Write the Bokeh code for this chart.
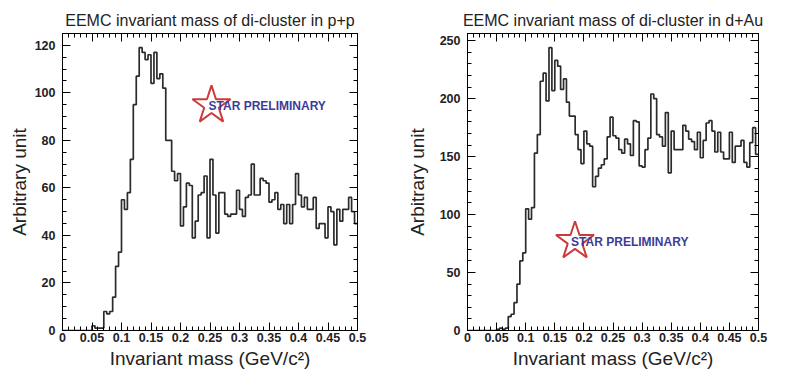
from bokeh.plotting import figure
from bokeh.models import Range1d, LinearAxis, Label, SingleIntervalTicker, NumeralTickFormatter
from bokeh.layouts import row
from bokeh.embed import file_html
from bokeh.resources import INLINE

# ---------------- data ----------------
BIN_WIDTH = 0.005  # GeV/c^2, 100 bins from 0 to 0.5

pp_counts = [
    0, 0, 0, 0, 0, 0, 0, 0, 0, 0,
    2, 1, 1, 1, 8, 7, 8, 14, 27, 33,
    55, 51, 58, 72, 95, 107, 119, 117, 114, 116,
    104, 117, 106, 108, 102, 80, 80, 67, 63, 66,
    44, 52, 62, 61, 39, 46, 57, 58, 65, 39,
    72, 57, 41, 58, 58, 49, 48, 49, 49, 59,
    51, 48, 56, 57, 70, 57, 57, 64, 63, 62,
    54, 55, 58, 51, 53, 45, 53, 45, 53, 66,
    57, 52, 56, 51, 51, 56, 43, 45, 45, 39,
    52, 50, 36, 51, 46, 51, 51, 56, 50, 45,
]

dau_counts = [
    0, 0, 0, 0, 0, 0, 0, 0, 0, 0,
    1, 2, 1, 2, 12, 14, 24, 40, 60, 67,
    105, 96, 106, 153, 169, 215, 222, 198, 244, 207,
    233, 228, 208, 217, 197, 185, 185, 169, 156, 144,
    172, 161, 159, 124, 133, 140, 143, 148, 167, 184,
    168, 166, 156, 153, 165, 161, 151, 181, 180, 142,
    141, 156, 166, 204, 200, 169, 167, 159, 188, 136,
    172, 156, 156, 156, 177, 172, 165, 163, 156, 171,
    149, 164, 179, 181, 172, 154, 171, 154, 148, 148,
    171, 145, 159, 159, 164, 145, 141, 162, 175, 152,
]

titles = ["EEMC invariant mass of di-cluster in p+p",
          "EEMC invariant mass of di-cluster in d+Au"]
x_title = "Invariant mass (GeV/c\u00b2)"
y_title = "Arbitrary unit"
logo_text = "STAR PRELIMINARY"

FONT = "Liberation Sans"


def style_axis(ax, labels=True):
    ax.axis_line_color = "black"
    ax.axis_line_width = 1
    ax.major_tick_line_color = "black"
    ax.minor_tick_line_color = "black"
    ax.major_tick_in = 8
    ax.major_tick_out = 0
    ax.minor_tick_in = 4
    ax.minor_tick_out = 0
    if labels:
        ax.major_label_text_font = FONT
        ax.major_label_text_font_style = "bold"
        ax.major_label_text_font_size = "12.5px"
        ax.major_label_text_color = "#222222"
    else:
        ax.major_label_text_font_size = "1px"
        ax.major_label_text_alpha = 0
        ax.major_label_text_color = None
        ax.major_label_standoff = 0


def make_panel(counts, y_interval, y_minor, width, border_left, border_right,
               title, ylabel_standoff, star_xy, text_xy):
    y_end = 1.05 * max(counts)
    p = figure(width=width, height=376,
               x_range=Range1d(0, 0.5), y_range=Range1d(0, y_end),
               output_backend="svg", toolbar_location=None,
               min_border_left=border_left, min_border_right=border_right,
               min_border_top=33, min_border_bottom=46)
    p.grid.visible = False
    p.outline_line_color = "black"
    p.background_fill_color = "white"
    p.border_fill_color = "white"

    p.title.text = title
    p.title.align = "center"
    p.title.offset = -6
    p.title.text_font = FONT
    p.title.text_font_style = "normal"
    p.title.text_font_size = "16px"
    p.title.text_color = "#222222"

    edges = [i * BIN_WIDTH for i in range(len(counts) + 1)]
    p.step(x=edges, y=list(counts) + [counts[-1]], mode="after",
           line_color="#2b2b2b", line_width=1.7)

    p.xaxis.ticker = SingleIntervalTicker(interval=0.05, num_minor_ticks=5)
    p.yaxis.ticker = SingleIntervalTicker(interval=y_interval, num_minor_ticks=y_minor)
    p.xaxis.formatter = NumeralTickFormatter(format="0.[00]")
    p.xaxis.major_label_standoff = 2
    p.yaxis.major_label_standoff = 7
    style_axis(p.xaxis[0])
    style_axis(p.yaxis[0])

    for ax, lab, st in ((p.yaxis, y_title, ylabel_standoff), (p.xaxis, x_title, 3)):
        ax.axis_label = lab
        ax.axis_label_text_font = FONT
        ax.axis_label_text_font_style = "normal"
        ax.axis_label_text_font_size = "19px"
        ax.axis_label_text_color = "#222222"
        ax.axis_label_standoff = st

    top = LinearAxis(ticker=SingleIntervalTicker(interval=0.05, num_minor_ticks=5))
    right = LinearAxis(ticker=SingleIntervalTicker(interval=y_interval, num_minor_ticks=y_minor))
    style_axis(top, labels=False)
    style_axis(right, labels=False)
    p.add_layout(top, "above")
    p.add_layout(right, "right")

    p.scatter(x=[star_xy[0]], y=[star_xy[1]], marker="star", size=40,
              fill_color=None, line_color="#cc3b3b", line_width=2)
    p.add_layout(Label(x=text_xy[0], y=text_xy[1], text=logo_text,
                       text_align="left", text_baseline="middle",
                       text_font=FONT, text_font_style="bold",
                       text_font_size="12px", text_color="#3c3c99"))
    return p


p1 = make_panel(pp_counts, 20, 4, 403, 62, 46, titles[0], 2,
                star_xy=(0.2525, 94.7), text_xy=(0.2475, 94.5))
p2 = make_panel(dau_counts, 50, 5, 385, 60, 30, titles[1], 9,
                star_xy=(0.1847, 77.0), text_xy=(0.178, 76.0))

layout = row(p1, p2)
open("out.html", "w").write(file_html(layout, INLINE))
